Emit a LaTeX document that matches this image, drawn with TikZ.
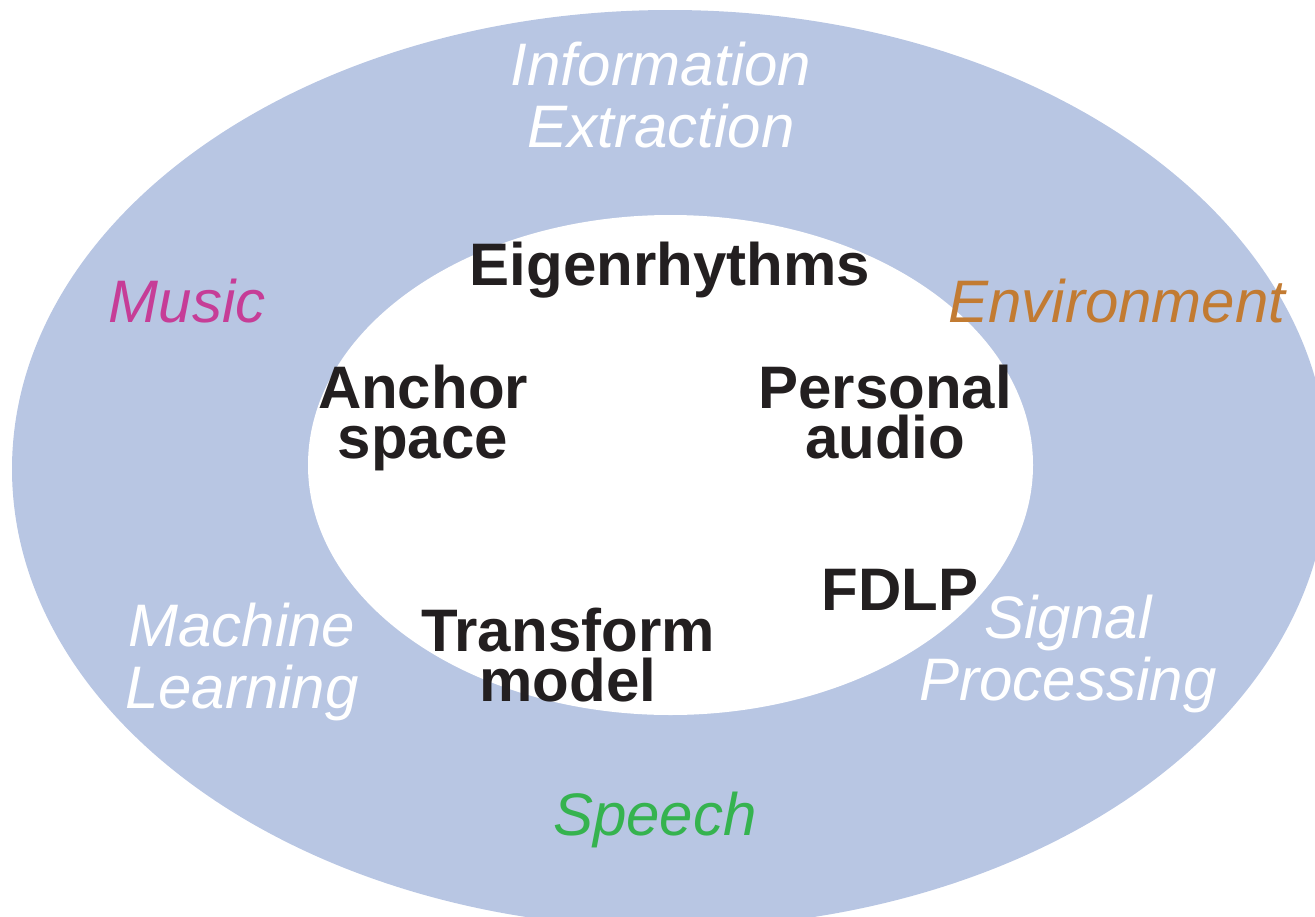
\documentclass[tikz,border=0pt]{standalone}
\usepackage{fontspec}
\setmainfont{Liberation Sans}
\definecolor{ringblue}{HTML}{B8C6E3}
\definecolor{musicpink}{HTML}{C63D97}
\definecolor{envorange}{HTML}{C27B32}
\definecolor{speechgreen}{HTML}{35B34F}
\definecolor{inkblack}{HTML}{231F20}
\tikzset{
  % base anchor of a multi-line node sits on its last line
  field/.style={anchor=base, align=center, inner sep=0pt,
    font=\fontsize{60}{62}\selectfont\itshape},
  topic/.style={anchor=base, align=center, inner sep=0pt, text=inkblack,
    font=\fontsize{60}{50}\selectfont\bfseries},
}
\begin{document}
\begin{tikzpicture}[x=1pt, y=-1pt]
  \useasboundingbox (0,0) rectangle (1315,916);
  \clip (0,0) rectangle (1315,916);
  % outer ring of research fields
  \fill[ringblue] (670,469) ellipse [x radius=658pt, y radius=459pt];
  % inner core of projects
  \fill[white] (670.5,465) ellipse [x radius=362.5pt, y radius=250pt];

  % fields
  \node[field, text=white] (info) at (661,147) {Information\\Extraction};
  \node[field, text=musicpink] (music) at (187,322) {Music};
  \node[field, text=envorange] (env) at (1117,322) {Environment};
  \node[field, text=white] (ml) at (242,708) {Machine\\Learning};
  \node[field, text=white] (sp) at (1068,700) {Signal\\Processing};
  \node[field, text=speechgreen] (speech) at (655,835) {Speech};

  % projects
  \node[topic] (eigen) at (670,285) {Eigenrhythms};
  \node[topic] (anchor) at (423,458) {Anchor\\space};
  \node[topic] (personal) at (885,458) {Personal\\audio};
  \node[topic] (fdlp) at (900,610) {FDLP};
  \node[topic] (transform) at (568,701) {Transform\\model};
\end{tikzpicture}
\end{document}
